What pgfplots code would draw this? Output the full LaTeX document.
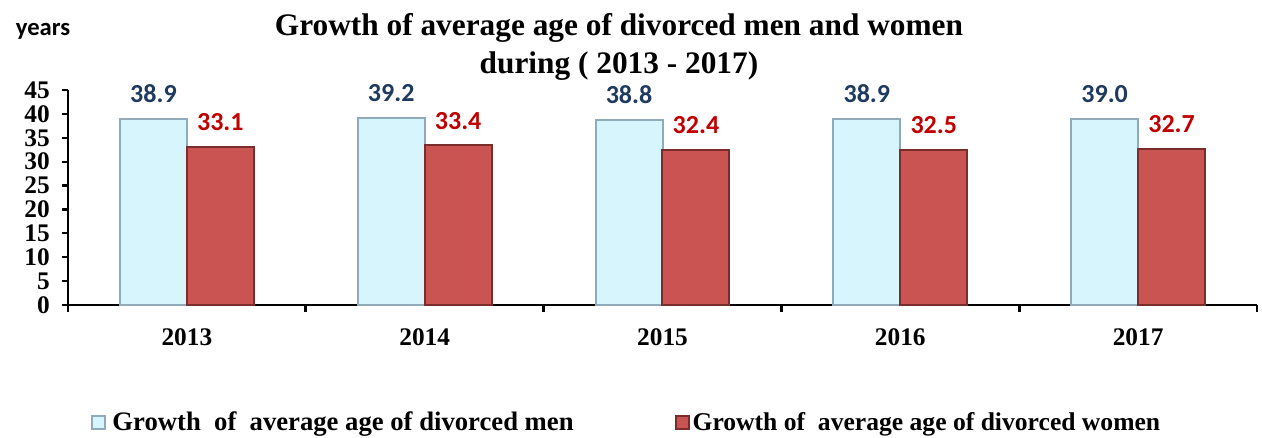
\documentclass[border=0pt]{standalone}
\usepackage{fontspec}
\setmainfont{Liberation Serif}
\newfontfamily\carlito{Carlito}
\usepackage{pgfplots}
\pgfplotsset{compat=1.18}
\definecolor{menfill}{HTML}{D7F5FC}
\definecolor{menedge}{HTML}{8FAAB8}
\definecolor{womenfill}{HTML}{C95451}
\definecolor{womenedge}{HTML}{7A2E2C}
\definecolor{menlab}{HTML}{1F3A5F}
\definecolor{womenlab}{HTML}{C00000}
\begin{document}
\begin{tikzpicture}
\useasboundingbox (0,0) rectangle (946.5pt,328.5pt);
\begin{axis}[
  at={(51pt,99.75pt)}, anchor=south west,
  scale only axis, width=891.75pt, height=161.25pt,
  xmin=-0.5, xmax=4.5, ymin=0, ymax=45,
  axis x line*=bottom, axis y line*=left,
  axis line style={line width=2pt, black},
  xtick={0,1,2,3,4},
  xticklabels={2013,2014,2015,2016,2017},
  minor xtick={-0.5,0.5,1.5,2.5,3.5,4.5},
  major x tick style={draw=none},
  minor x tick style={line width=2pt, black},
  minor tick length=5pt,
  ytick={0,5,...,45},
  major y tick style={line width=1.6pt, black},
  major tick length=4.5pt,
  tick align=outside,
  /pgf/number format/assume math mode=true,
  ticklabel style={font=\fontsize{19}{19}\selectfont\bfseries},
  xticklabel style={anchor=base, yshift=-26pt},
  yticklabel style={anchor=east, xshift=-9pt, inner sep=0pt},
  ybar, bar width=50.25pt,
  clip=false,
  legend columns=2,
  legend style={at={(rel axis cs:0.470,-0.545)}, anchor=center, draw=none, fill=none,
    font=\fontsize{20}{20}\selectfont\bfseries,
    /tikz/column 1/.style={column sep=3pt},
    /tikz/column 2/.style={column sep=74pt},
    /tikz/column 3/.style={column sep=0pt}},
  legend image code/.code={\draw[#1] (0pt,-4.9pt) rectangle (9.75pt,4.9pt);},
]
\addplot[fill=menfill, draw=menedge, line width=1.5pt, bar shift=-25.1pt,
  nodes near coords={\pgfmathprintnumber[fixed,fixed zerofill,precision=1,assume math mode=true]{\pgfplotspointmeta}},
  every node near coord/.append style={font=\carlito\fontsize{19.5}{19.5}\selectfont\bfseries, text=menlab, anchor=south, yshift=8pt}]
  coordinates {(0,38.9) (1,39.2) (2,38.8) (3,38.9) (4,39.0)};
\addplot[fill=womenfill, draw=womenedge, line width=1.5pt, bar shift=25.1pt,
  nodes near coords={\pgfmathprintnumber[fixed,fixed zerofill,precision=1,assume math mode=true]{\pgfplotspointmeta}},
  every node near coord/.append style={font=\carlito\fontsize{19.5}{19.5}\selectfont\bfseries, text=womenlab, anchor=south, yshift=8pt}]
  coordinates {(0,33.1) (1,33.4) (2,32.4) (3,32.5) (4,32.7)};
\legend{Growth\ \ of\ \ average age of divorced men, {\fontsize{19.2}{19.2}\selectfont Growth of\ \ average age of divorced women}}
\end{axis}
\node[font=\carlito\fontsize{18.5}{18.5}\selectfont\bfseries] at (32.25pt,305.25pt) {years};
\node[align=center, font=\fontsize{23.5}{28.5}\selectfont\bfseries] at (464.25pt,293.5pt) {Growth of average age of divorced men and women\\during ( 2013 - 2017)};
\end{tikzpicture}
\end{document}
